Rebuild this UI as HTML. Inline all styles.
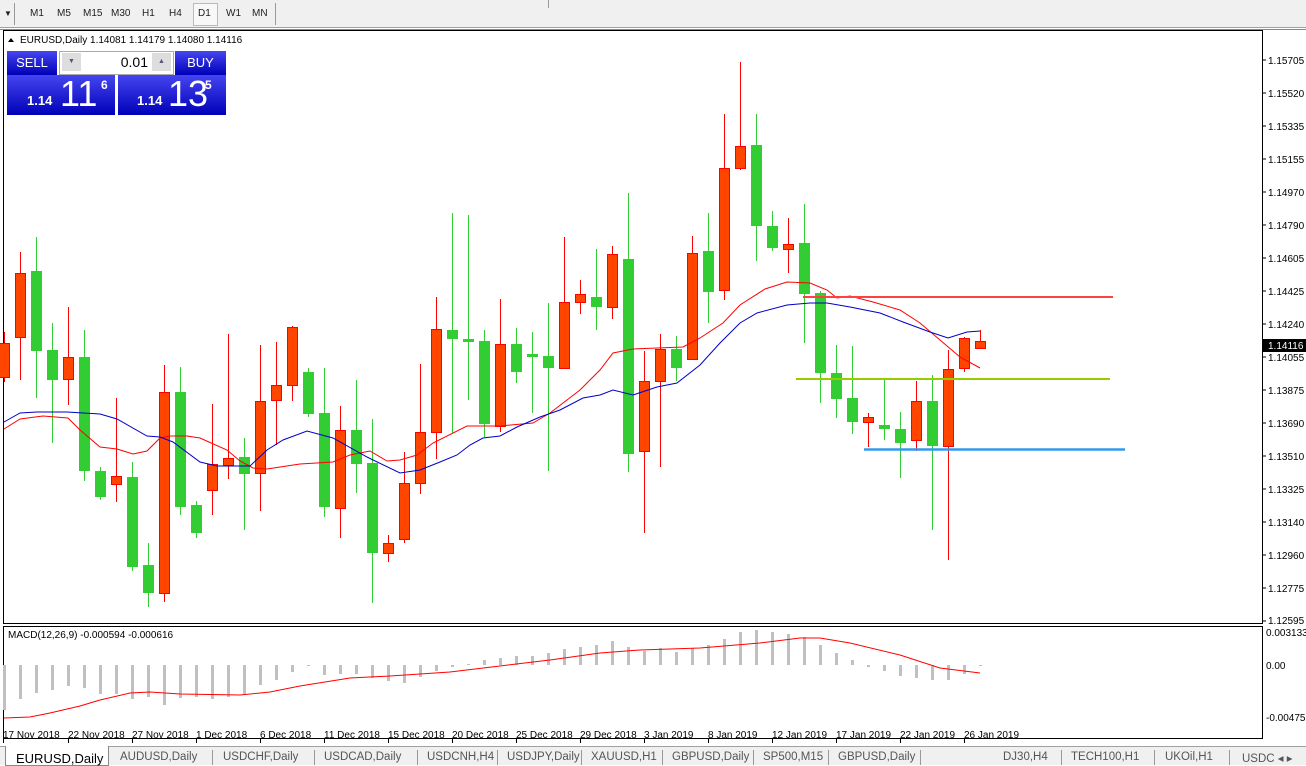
<!DOCTYPE html>
<html><head><meta charset="utf-8">
<style>
body{margin:0;width:1306px;height:764px;overflow:hidden;background:#fff;font-family:"Liberation Sans",sans-serif;position:relative}
.tb{position:absolute;left:0;top:0;width:1306px;height:27px;background:#f0f0f0;border-bottom:1px solid #a0a0a0}
.tb span{position:absolute;top:8px;font-size:10px;color:#222}
.tabs{position:absolute;left:0;top:746px;width:1306px;height:18px;background:#f0f0f0;border-top:1px solid #a0a0a0}
.tabs span{position:absolute;top:4px;font-size:11.5px;color:#555;white-space:nowrap}
.tabs i{position:absolute;top:3px;width:1px;height:15px;background:#999}
.bl{position:absolute;background:linear-gradient(#4545f0,#0000b8);color:#fff}
</style></head><body>
<div class="tb">
<span style="left:4px;top:9px;font-size:8px">▼</span>
<div style="position:absolute;left:14px;top:3px;width:1px;height:22px;background:#999"></div>
<span style="left:30px">M1</span><span style="left:57px">M5</span><span style="left:83px">M15</span><span style="left:111px">M30</span><span style="left:142px">H1</span><span style="left:169px">H4</span>
<div style="position:absolute;left:193px;top:3px;width:23px;height:21px;border:1px solid #bbb;background:#f8f8f8"></div>
<span style="left:198px">D1</span><span style="left:226px">W1</span><span style="left:252px">MN</span>
<div style="position:absolute;left:275px;top:3px;width:1px;height:22px;background:#999"></div>
<div style="position:absolute;left:548px;top:0;width:1px;height:8px;background:#999"></div>
</div>
<svg width="1306" height="764" style="position:absolute;left:0;top:0" id="sv">
<rect x="3.5" y="30.5" width="1259" height="593" fill="none" stroke="#000"/>
<rect x="3.5" y="626.5" width="1259" height="112" fill="none" stroke="#000"/>
<line x1="0" y1="29.5" x2="1306" y2="29.5" stroke="#888"/>
<g id="g"></g>
<g font-size="10" fill="#000" font-family="Liberation Sans,sans-serif">
<text x="1268" y="64">1.15705</text><text x="1268" y="97">1.15520</text><text x="1268" y="130">1.15335</text><text x="1268" y="163">1.15155</text><text x="1268" y="196">1.14970</text><text x="1268" y="229">1.14790</text><text x="1268" y="262">1.14605</text><text x="1268" y="295">1.14425</text><text x="1268" y="328">1.14240</text><text x="1268" y="361">1.14055</text><text x="1268" y="394">1.13875</text><text x="1268" y="427">1.13690</text><text x="1268" y="460">1.13510</text><text x="1268" y="493">1.13325</text><text x="1268" y="526">1.13140</text><text x="1268" y="559">1.12960</text><text x="1268" y="592">1.12775</text><text x="1268" y="624">1.12595</text>
<rect x="1263" y="339" width="43" height="13" fill="#000"/>
<text x="1268" y="349" fill="#fff">1.14116</text>
<text x="1266" y="636">0.003133</text><text x="1266" y="669">0.00</text><text x="1266" y="721">-0.004751</text>
<text x="20" y="43">EURUSD,Daily  1.14081 1.14179 1.14080 1.14116</text>
<text x="8" y="638">MACD(12,26,9) -0.000594 -0.000616</text>
<text x="3" y="738">17 Nov 2018</text><text x="68" y="738">22 Nov 2018</text><text x="132" y="738">27 Nov 2018</text><text x="196" y="738">1 Dec 2018</text><text x="260" y="738">6 Dec 2018</text><text x="324" y="738">11 Dec 2018</text><text x="388" y="738">15 Dec 2018</text><text x="452" y="738">20 Dec 2018</text><text x="516" y="738">25 Dec 2018</text><text x="580" y="738">29 Dec 2018</text><text x="644" y="738">3 Jan 2019</text><text x="708" y="738">8 Jan 2019</text><text x="772" y="738">12 Jan 2019</text><text x="836" y="738">17 Jan 2019</text><text x="900" y="738">22 Jan 2019</text><text x="964" y="738">26 Jan 2019</text>
</g>
<path d="M8 42 L11 38 L14 42Z" fill="#000"/>
</svg>
<div class="bl" style="left:7px;top:51px;width:50px;height:24px;font-size:13px;text-align:center;line-height:24px">SELL</div>
<div class="bl" style="left:175px;top:51px;width:51px;height:24px;font-size:13px;text-align:center;line-height:24px">BUY</div>
<div style="position:absolute;left:59px;top:51px;width:113px;height:22px;background:#fff;border:1px solid #aaa"></div>
<div style="position:absolute;left:62px;top:53px;width:19px;height:18px;background:#ddd;font-size:7px;text-align:center;line-height:18px;color:#557">▼</div>
<div style="position:absolute;left:152px;top:53px;width:19px;height:18px;background:#ddd;font-size:7px;text-align:center;line-height:18px;color:#557">▲</div>
<div style="position:absolute;left:100px;top:54px;width:48px;font-size:14px;text-align:right">0.01</div>
<div class="bl" style="left:7px;top:75px;width:108px;height:40px"><span style="position:absolute;left:20px;top:18px;font-size:13px;font-weight:bold">1.14</span><span style="position:absolute;left:53px;top:-2px;font-size:36px">11</span><span style="position:absolute;left:94px;top:3px;font-size:12px;font-weight:bold">6</span></div>
<div class="bl" style="left:118px;top:75px;width:108px;height:40px"><span style="position:absolute;left:19px;top:18px;font-size:13px;font-weight:bold">1.14</span><span style="position:absolute;left:50px;top:-2px;font-size:36px">13</span><span style="position:absolute;left:87px;top:3px;font-size:12px;font-weight:bold">5</span></div>
<div class="tabs">
<div style="position:absolute;left:5px;top:-1px;width:102px;height:19px;background:#fff;border:1px solid #888;border-top:none"></div>
<span style="left:16px;color:#000;font-size:13px">EURUSD,Daily</span><span style="left:120px">AUDUSD,Daily</span><i style="left:212px"></i><span style="left:223px">USDCHF,Daily</span><i style="left:314px"></i><span style="left:324px">USDCAD,Daily</span><i style="left:417px"></i><span style="left:427px">USDCNH,H4</span><i style="left:497px"></i><span style="left:507px">USDJPY,Daily</span><i style="left:581px"></i><span style="left:591px">XAUUSD,H1</span><i style="left:662px"></i><span style="left:672px">GBPUSD,Daily</span><i style="left:753px"></i><span style="left:763px">SP500,M15</span><i style="left:828px"></i><span style="left:838px">GBPUSD,Daily</span><i style="left:920px"></i><span style="left:1003px">DJ30,H4</span><i style="left:1061px"></i><span style="left:1071px">TECH100,H1</span><i style="left:1154px"></i><span style="left:1165px">UKOil,H1</span><i style="left:1229px"></i><span style="left:1242px">USDC ◂  ▸</span>
</div>
<script>
var c=[[4,'r',343,377,332,382],[20,'r',273,337,252,380],[36,'g',271,351,237,398],[52,'g',350,380,323,443],[68,'r',357,379,307,405],[84,'g',357,471,330,481],[100,'g',471,497,467,500],[116,'r',476,484,398,502],[132,'g',477,567,462,571],[148,'g',565,593,543,607],[164,'r',392,593,365,602],[180,'g',392,507,367,515],[196,'g',505,533,501,538],[212,'r',464,490,404,515],[228,'r',458,465,334,479],[244,'g',457,474,438,530],[260,'r',401,473,345,511],[276,'r',385,400,342,445],[292,'r',327,385,326,401],[308,'g',372,414,368,417],[324,'g',413,507,368,517],[340,'r',430,508,406,538],[356,'g',430,464,380,493],[372,'g',463,553,419,603],[388,'r',543,553,535,562],[404,'r',483,539,452,543],[420,'r',432,483,364,494],[436,'r',329,432,297,459],[452,'g',330,339,213,433],[468,'g',339,342,215,400],[484,'g',341,424,330,437],[500,'r',344,426,299,432],[516,'g',344,372,328,383],[532,'g',354,357,332,413],[548,'g',356,368,303,471],[564,'r',302,368,237,368],[580,'r',294,302,280,314],[596,'g',297,307,249,330],[612,'r',254,307,246,319],[628,'g',259,454,193,472],[644,'r',381,451,351,533],[660,'r',349,381,334,467],[676,'g',349,368,336,381],[692,'r',253,359,236,359],[708,'g',251,292,213,323],[724,'r',168,290,114,300],[740,'r',146,168,62,170],[756,'g',145,226,114,261],[772,'g',226,248,211,251],[788,'r',244,249,218,273],[804,'g',243,294,204,343],[820,'g',293,373,291,403],[836,'g',373,399,345,418],[852,'g',398,422,346,434],[868,'r',417,422,413,447],[884,'g',425,429,380,440],[900,'g',429,443,412,478],[916,'r',401,440,381,451],[932,'g',401,446,375,530],[948,'r',369,446,350,560],[964,'r',338,368,337,372],[980,'r',341,348,330,348]];
var s='';
var redMA=[[4,429],[20,419],[43,416],[68,418],[80,430],[100,447],[117,449],[133,454],[147,451],[160,438],[170,436],[187,436],[200,438],[227,450],[240,461],[253,468],[267,469],[300,464],[333,462],[350,455],[370,451],[387,461],[400,460],[417,455],[433,443],[467,426],[500,426],[533,423],[550,413],[580,390],[600,370],[613,353],[633,349],[683,347],[700,338],[723,323],[740,305],[765,289],[787,282],[810,283],[827,290],[837,298],[850,296],[873,302],[900,310],[920,323],[940,340],[960,357],[980,368]];
var blueMA=[[4,422],[20,413],[37,412],[67,412],[100,414],[117,419],[147,436],[160,437],[173,442],[200,462],[217,466],[250,466],[267,450],[283,440],[307,431],[333,438],[367,457],[400,473],[420,470],[440,462],[457,455],[470,445],[483,438],[500,436],[517,427],[540,417],[560,410],[583,398],[600,395],[613,390],[633,395],[657,387],[677,383],[700,365],[720,343],[740,323],[757,313],[787,305],[810,303],[827,303],[850,307],[880,313],[903,322],[930,332],[948,338],[967,332],[980,331]];
function pl(p,col){return '<polyline fill="none" stroke="'+col+'" stroke-width="1" points="'+p.map(function(a){return a.join(',')}).join(' ')+'"/>';}
var hb={4:710,20:699,36:693,52:690,68:686,84:688,100:694,116:694,132:699,148:697,164:705,180:698,196:697,212:699,228:697,244:694,260:685,276:680,292:672,308:666,324:675,340:674,356:674,372:678,388:681,404:683,420:677,436:671,452:667,468:664,484:660,500:658,516:656,532:656,548:653,564:649,580:647,596:645,612:641,628:647,644:651,660:648,676:652,692:648,708:645,724:639,740:632,756:630,772:632,788:634,804:637,820:645,836:653,852:660,868:667,884:671,900:676,916:678,932:680,948:680,964:674,980:665};
for(var k in hb){var y=hb[k];s+='<rect x="'+(k-1)+'" y="'+Math.min(y,665)+'" width="3" height="'+Math.max(1,Math.abs(y-665))+'" fill="#c0c0c0"/>';}
s+=pl([[4,718],[30,717],[50,713],[80,706],[100,700],[130,693],[150,692],[180,694],[240,695],[270,692],[300,686],[350,678],[390,676],[450,672],[500,666],[550,660],[600,653],[640,650],[700,648],[760,643],[800,638],[820,638],[850,643],[900,655],[940,668],[980,673]],'#f00');
c.forEach(function(d){var x=d[0],r=d[1]=='r';var col=r?'#ff0000':'#32cd32';
s+='<line x1="'+(x+.5)+'" y1="'+d[4]+'" x2="'+(x+.5)+'" y2="'+d[5]+'" stroke="'+col+'"/>';
var h=Math.max(1,d[3]-d[2]);
if(r)s+='<rect x="'+(x-4.5)+'" y="'+(d[2]+.5)+'" width="10" height="'+h+'" fill="#ff4500" stroke="#ff0000"/>';
else s+='<rect x="'+(x-5)+'" y="'+d[2]+'" width="11" height="'+h+'" fill="#32cd32"/>';});
s+=pl(redMA,'#f00')+pl(blueMA,'#0000c8');
s+='<line x1="803" y1="297" x2="1113" y2="297" stroke="#ff4040" stroke-width="2"/>';
s+='<line x1="796" y1="379" x2="1110" y2="379" stroke="#99cc00" stroke-width="2"/>';
s+='<line x1="864" y1="449.5" x2="1125" y2="449.5" stroke="#3399ee" stroke-width="2.5"/>';
s+='<line x1="1262" y1="345" x2="1266" y2="345" stroke="#000"/>';
[3,68,132,196,260,324,388,452,516,580,644,708,772,836,900,964].forEach(function(x){s+='<line x1="'+(x+.5)+'" y1="739" x2="'+(x+.5)+'" y2="743" stroke="#000"/>';});
for(var i=0;i<18;i++){var y=60+i*33;s+='<line x1="1262" y1="'+y+'" x2="1266" y2="'+y+'" stroke="#000"/>';}
document.getElementById('g').innerHTML=s;
</script>
</body></html>
